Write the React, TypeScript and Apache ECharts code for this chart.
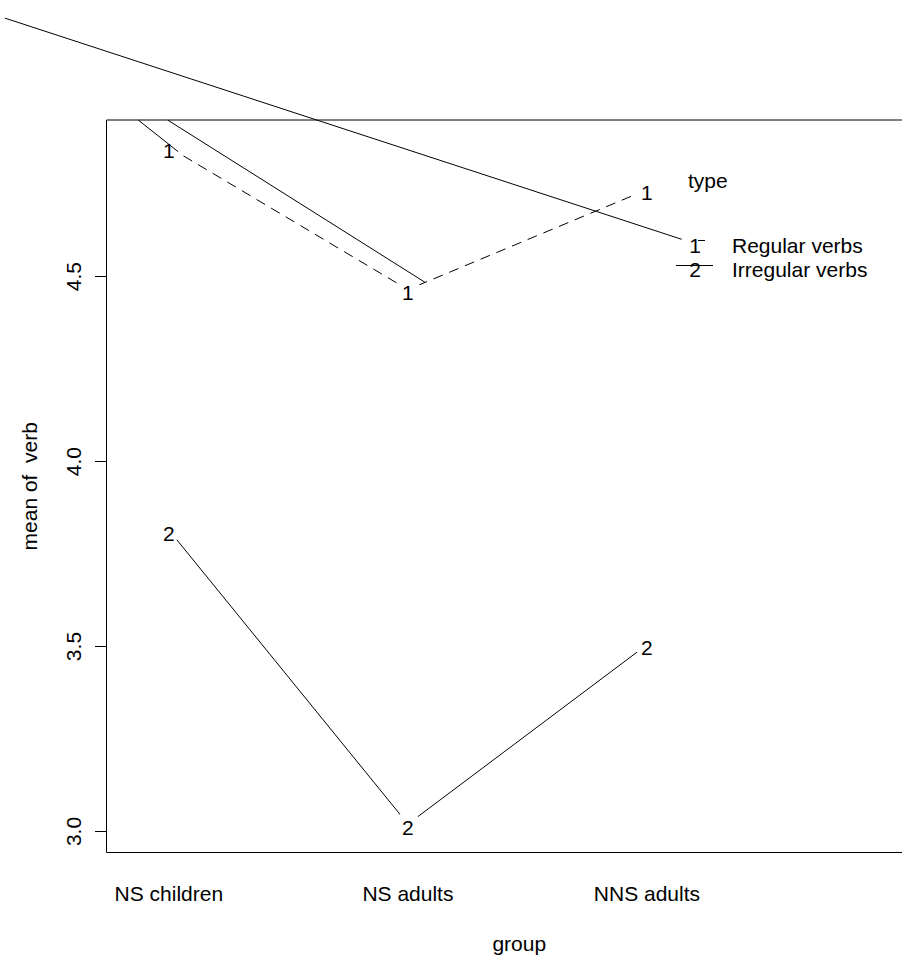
import React, { useEffect, useRef } from "react";
import * as echarts from "echarts";

// ---- data ----
const groups = ["NS children", "NS adults", "NNS adults"];
const groupPositions = [1, 2, 3];
const regularMeans = [4.85, 4.465, 4.735];
const irregularMeans = [3.815, 3.02, 3.505];
const yTicks = [3.0, 3.5, 4.0, 4.5];
const typeLabels = ["Regular verbs", "Irregular verbs"];
const traceSymbols = ["1", "2"];
// stray line segments present in the original figure (data coordinates)
const strayLineA = [[0.8716, 4.9235], [1.0389, 4.8378]];
const strayLineB = [[0.9946, 4.9235], [2.0711, 4.4849]];
const strayDiagonal = [[0.3138, 5.199], [3.1452, 4.601]];

const X_MIN = 0.739;
const X_MAX = 4.1925;
const Y_MIN = 2.9432;
const Y_MAX = 4.9235;

const FONT = "'Liberation Sans', Arial, Helvetica, sans-serif";
const FS = 21;

export default function App() {
  const ref = useRef<HTMLDivElement>(null);
  useEffect(() => {
    if (!ref.current) return;
    const chart = echarts.init(ref.current, undefined, { renderer: "svg" });
    const pts = (vals: number[]) => groupPositions.map((x, i) => [x, vals[i]]);
    const traceSeries = (name: string, vals: number[], sym: string, dash: any) => ({
      type: "line",
      name,
      data: pts(vals),
      silent: true,
      z: 3,
      lineStyle: { color: "#000", width: 1, type: dash },
      symbol: "circle",
      symbolSize: 25,
      itemStyle: { color: "#fff", borderWidth: 0 },
      label: {
        show: true,
        position: "inside",
        formatter: sym,
        color: "#000",
        fontSize: FS,
        fontFamily: FONT,
        offset: [0, 3],
      },
    });
    const stray = (data: number[][], clip: boolean) => ({
      type: "line",
      data,
      silent: true,
      z: 4,
      clip,
      symbol: "none",
      lineStyle: { color: "#000", width: 1 },
    });
    const legendGraphics: any[] = [
      {
        type: "text",
        left: 688,
        top: 170,
        style: { text: "type", fontSize: FS, fontFamily: FONT, fill: "#000" },
      },
      {
        type: "text",
        x: 695,
        y: 245,
        style: { text: traceSymbols[0], fontSize: FS, fontFamily: FONT, fill: "#000", align: "center", verticalAlign: "middle" },
      },
      {
        type: "line",
        shape: { x1: 698, y1: 240.5, x2: 705, y2: 240.5 },
        style: { stroke: "#000", lineWidth: 1 },
      },
      {
        type: "text",
        x: 732,
        y: 245,
        style: { text: typeLabels[0], fontSize: FS, fontFamily: FONT, fill: "#000", align: "left", verticalAlign: "middle" },
      },
      {
        type: "line",
        shape: { x1: 676, y1: 265.5, x2: 713, y2: 265.5 },
        style: { stroke: "#000", lineWidth: 1 },
      },
      {
        type: "text",
        x: 695,
        y: 269,
        style: { text: traceSymbols[1], fontSize: FS, fontFamily: FONT, fill: "#000", align: "center", verticalAlign: "middle" },
      },
      {
        type: "text",
        x: 732,
        y: 269,
        style: { text: typeLabels[1], fontSize: FS, fontFamily: FONT, fill: "#000", align: "left", verticalAlign: "middle" },
      },
    ];
    chart.setOption({
      animation: false,
      backgroundColor: "#fff",
      textStyle: { fontFamily: FONT },
      grid: {
        show: true,
        left: 106.5,
        top: 120,
        right: -30,
        bottom: 103.5,
        borderColor: "#000",
        borderWidth: 1,
        backgroundColor: "transparent",
        outerBoundsMode: "none",
      },
      xAxis: {
        type: "value",
        min: X_MIN,
        max: X_MAX,
        name: "group",
        nameLocation: "middle",
        nameGap: 80,
        nameTextStyle: { fontSize: FS, color: "#000", fontFamily: FONT },
        axisLine: { show: false },
        axisTick: { show: false },
        splitLine: { show: false },
        axisLabel: {
          customValues: groupPositions,
          formatter: (v: number) => groups[Math.round(v) - 1] ?? "",
          fontSize: FS,
          color: "#000",
          fontFamily: FONT,
          margin: 30,
        },
      },
      yAxis: {
        type: "value",
        min: Y_MIN,
        max: Y_MAX,
        name: "mean of  verb",
        nameLocation: "middle",
        nameRotate: 90,
        nameGap: 67,
        nameTextStyle: { fontSize: FS, color: "#000", fontFamily: FONT },
        axisLine: { show: false },
        splitLine: { show: false },
        axisTick: {
          show: true,
          customValues: yTicks,
          length: 11.5,
          lineStyle: { color: "#000", width: 1 },
        },
        axisLabel: {
          customValues: yTicks,
          rotate: 90,
          formatter: (v: number) => v.toFixed(1),
          fontSize: FS,
          color: "#000",
          fontFamily: FONT,
          margin: 23,
        },
      },
      series: [
        traceSeries(typeLabels[0], regularMeans, traceSymbols[0], [10, 7]),
        traceSeries(typeLabels[1], irregularMeans, traceSymbols[1], "solid"),
        stray(strayLineA, true),
        stray(strayLineB, true),
      ],
      graphic: legendGraphics,
    });
    // the long stray diagonal runs outside the plotting region: place it via the axes' scales
    const p1 = chart.convertToPixel({ gridIndex: 0 }, strayDiagonal[0]) as number[];
    const p2 = chart.convertToPixel({ gridIndex: 0 }, strayDiagonal[1]) as number[];
    chart.setOption({
      graphic: [
        ...legendGraphics,
        {
          type: "line",
          z: 10,
          shape: { x1: p1[0], y1: p1[1], x2: p2[0], y2: p2[1] },
          style: { stroke: "#000", lineWidth: 1 },
        },
      ],
    });
    return () => chart.dispose();
  }, []);
  return (
    <div
      ref={ref}
      style={{ position: "absolute", left: 0, top: 0, width: 902, height: 956, background: "#fff" }}
    />
  );
}
